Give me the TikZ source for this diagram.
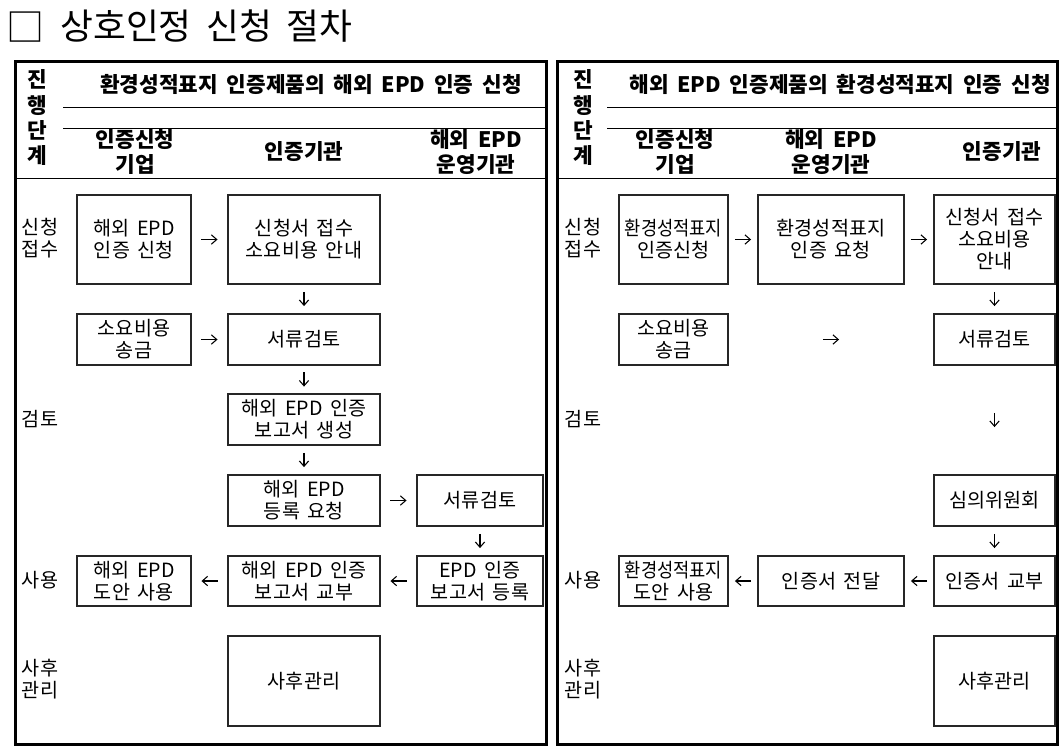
\documentclass[tikz,border=0pt]{standalone}
\usepackage{graphicx}
\usepackage{fontspec}
\setmainfont{Noto Sans CJK KR}[WordSpace=1.8]
\usetikzlibrary{arrows.meta}
\newcommand\bodyf{\fontsize{14.7pt}{16.5pt}\selectfont}
\newcommand\headf{\bfseries\fontsize{16pt}{19pt}\selectfont}
\newcommand\titlef{\fontsize{26.8pt}{30pt}\selectfont}
\newcommand\cond[1]{\scalebox{0.9}[1]{#1}}
\newcommand\bx[6]{\node[box, minimum width={(#4-#2)*0.75pt}, minimum height={(#5-#3)*0.75pt}] (#1) at ({(#2+#4)/2},{(#3+#5)/2}) {#6};}
\tikzset{
  frame/.style={draw, line width=2.25pt},
  rule/.style={draw, line width=0.75pt},
  box/.style={draw=black!85, line width=0.9pt, inner sep=0pt, align=center, font=\bodyf},
  stage/.style={inner sep=0pt, align=center, font=\bodyf},
  head/.style={inner sep=0pt, align=center, font=\headf},
  arr/.style={-{Straight Barb[length=4pt,width=7pt]}, line width=0.8pt, shorten <=#1, shorten >=#1},
}
\begin{document}
\begin{tikzpicture}[x=0.75pt,y=-0.75pt]
\useasboundingbox (0,0) rectangle (1063,751);
% title
\node[inner sep=0pt, font=\fontsize{28.5pt}{30pt}\selectfont] (tbox) at (26,27) {□};
\node[anchor=west, inner sep=0pt, font=\titlef] (title) at (60,26) {상호인정 신청 절차};

% ===== left panel =====
\draw[frame] (15,61) rectangle (546,744);
\draw[rule] (63,107) -- (546,107);
\draw[rule] (63,128) -- (546,128);
\draw[rule] (15,178) -- (546,178);
\node[head] (Lstep) at (37,118) {진\\행\\단\\계};
\node[head] (Lhead) at (311,84) {환경성적표지 인증제품의 해외 EPD 인증 신청};
\node[head] (Lc1) at (135,152) {인증신청\\기업};
\node[head] (Lc2) at (304,152) {인증기관};
\node[head] (Lc3) at (476,152) {해외 EPD\\운영기관};
\node[stage] (Ls1) at (40,238) {신청\\접수};
\node[stage] (Ls2) at (40,419) {검토};
\node[stage] (Ls3) at (40,580) {사용};
\node[stage] (Ls4) at (40,679) {사후\\관리};

\bx{L1a}{77}{195}{191}{284}{해외 EPD\\인증 신청}
\bx{L1b}{228}{195}{380}{284}{신청서 접수\\소요비용 안내}
\bx{L2a}{77}{314}{191}{365}{소요비용\\송금}
\bx{L2b}{228}{314}{380}{365}{서류검토}
\bx{L3b}{228}{394}{380}{445}{해외 EPD 인증\\보고서 생성}
\bx{L4b}{228}{475}{380}{526}{해외 EPD\\등록 요청}
\bx{L4c}{417}{475}{543}{526}{서류검토}
\bx{L5a}{77}{556}{191}{606}{해외 EPD\\도안 사용}
\bx{L5b}{228}{556}{380}{606}{해외 EPD 인증\\보고서 교부}
\bx{L5c}{417}{556}{543}{606}{EPD 인증\\보고서 등록}
\bx{L6b}{228}{636}{380}{726}{사후관리}

\draw[arr=7.4pt] (L1a) -- (L1b);
\draw[arr=5.5pt] (L1b) -- (L2b);
\draw[arr=7.4pt] (L2a) -- (L2b);
\draw[arr=5.1pt] (L2b) -- (L3b);
\draw[arr=5.5pt] (L3b) -- (L4b);
\draw[arr=7.4pt] (L4b) -- (L4c);
\draw[arr=5.5pt] (L4c) -- (L5c);
\draw[arr=7.4pt] (L5c) -- (L5b);
\draw[arr=7.4pt] (L5b) -- (L5a);

% ===== right panel =====
\draw[frame] (557,61) rectangle (1057,744);
\draw[rule] (607,107) -- (1057,107);
\draw[rule] (607,128) -- (1057,128);
\draw[rule] (557,178) -- (1057,178);
\node[head] (Rstep) at (583,118) {진\\행\\단\\계};
\node[head] (Rhead) at (840,84) {해외 EPD 인증제품의 환경성적표지 인증 신청};
\node[head] (Rc1) at (675,152) {인증신청\\기업};
\node[head] (Rc2) at (831,152) {해외 EPD\\운영기관};
\node[head] (Rc3) at (1002,152) {인증기관};
\node[stage] (Rs1) at (583,238) {신청\\접수};
\node[stage] (Rs2) at (583,419) {검토};
\node[stage] (Rs3) at (583,580) {사용};
\node[stage] (Rs4) at (583,679) {사후\\관리};

\bx{R1a}{619}{195}{728}{284}{\cond{환경성적표지}\\인증신청}
\bx{R1b}{758}{195}{904}{284}{환경성적표지\\인증 요청}
\bx{R1c}{934}{195}{1055}{284}{신청서 접수\\소요비용\\안내}
\bx{R2a}{619}{314}{728}{365}{소요비용\\송금}
\bx{R2c}{934}{314}{1055}{365}{서류검토}
\bx{R4c}{934}{475}{1055}{526}{심의위원회}
\bx{R5a}{619}{556}{728}{606}{\cond{환경성적표지}\\도안 사용}
\bx{R5b}{758}{556}{904}{606}{인증서 전달}
\bx{R5c}{934}{556}{1055}{606}{인증서 교부}
\bx{R6c}{934}{636}{1055}{726}{사후관리}

\draw[arr=4.75pt] (R1a) -- (R1b);
\draw[arr=4.75pt] (R1b) -- (R1c);
\draw[arr=5.5pt] (R1c) -- (R2c);
\draw[arr=70.75pt] (R2a) -- (R2c);
\draw[arr=35.5pt] (R2c) -- (R4c);
\draw[arr=5.5pt] (R4c) -- (R5c);
\draw[arr=4.75pt] (R5c) -- (R5b);
\draw[arr=4.75pt] (R5b) -- (R5a);
\end{tikzpicture}
\end{document}
